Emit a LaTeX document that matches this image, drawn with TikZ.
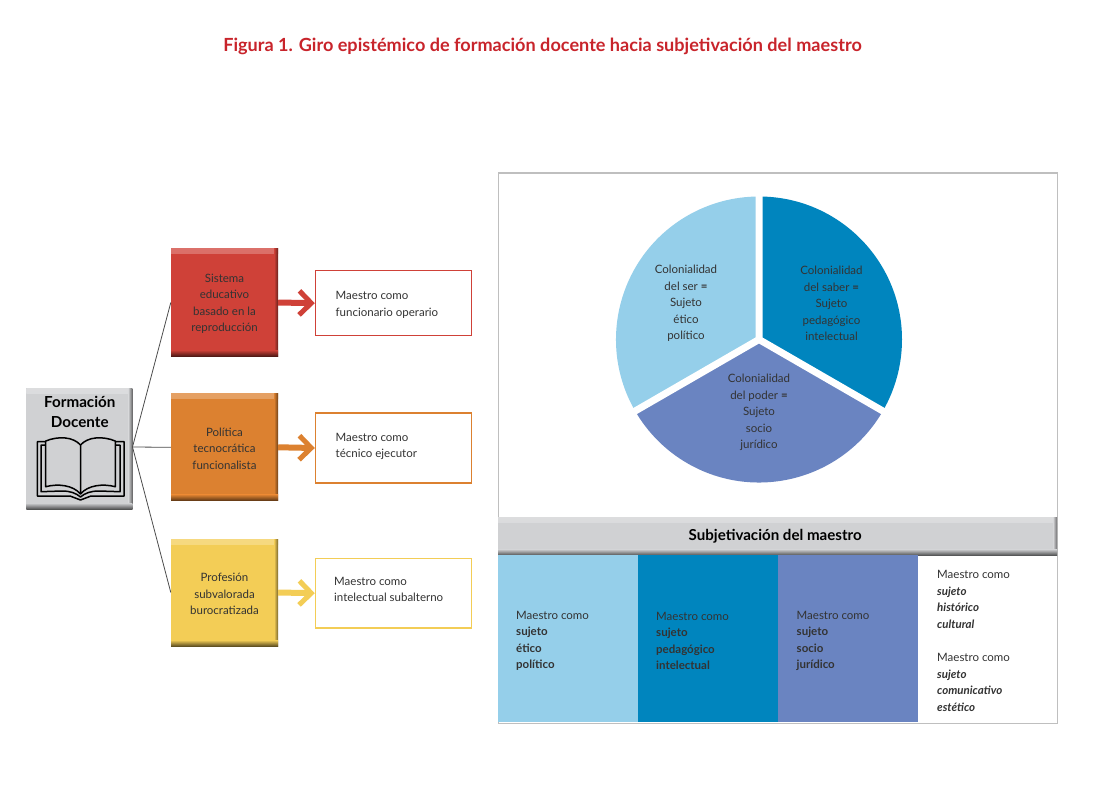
\documentclass[tikz,border=0pt]{standalone}
\usepackage{fontspec}
\setmainfont{Lato}
\usetikzlibrary{arrows.meta}
\definecolor{rojo}{HTML}{CF4138}
\definecolor{naranja}{HTML}{DC8130}
\definecolor{amarillo}{HTML}{F3CD56}
\definecolor{gris}{HTML}{D0D1D3}
\definecolor{celeste}{HTML}{95CFEA}
\definecolor{azul}{HTML}{0085BE}
\definecolor{indigo}{HTML}{6A84C1}
\definecolor{texto}{HTML}{333333}
\definecolor{titular}{HTML}{C8242B}
\tikzstyle{bevel} = [path picture={
    \shade[top color=#1!75!white, bottom color=#1] (path picture bounding box.north west) rectangle ([yshift=-5pt]path picture bounding box.north east);
    \shade[left color=#1, right color=#1!50!black] ([xshift=-4pt]path picture bounding box.north east) rectangle (path picture bounding box.south east);
    \shade[top color=#1, bottom color=#1!40!black] ([yshift=6pt]path picture bounding box.south west) rectangle (path picture bounding box.south east);
}]
\tikzstyle{cuerpo} = [text=texto, font=\fontsize{11.5}{16.5}\selectfont]
\tikzstyle{caja} = [rectangle, minimum width=107pt, minimum height=107pt, fill=#1, bevel=#1]
\tikzstyle{cajat} = [cuerpo, align=center, yshift=-1.5pt]
\tikzstyle{salida} = [rectangle, anchor=north west, line width=1.4pt, draw=#1, fill=white, minimum width=156pt, inner sep=0pt]
\tikzstyle{rotulo} = [cuerpo, anchor=west, align=left, inner sep=0pt]
\tikzstyle{rama} = [draw=black!70, line width=0.8pt]
\tikzstyle{flecha} = [line width=6pt, #1, -{Straight Barb[length=12pt,width=24pt,line width=5pt]}]
\tikzstyle{columna} = [rectangle, anchor=north west, minimum width=140pt, minimum height=167pt, inner sep=0pt]
\tikzstyle{trozo} = [cuerpo, align=center]
\begin{document}
\begin{tikzpicture}[x=1pt, y=-1pt]
    \useasboundingbox (0,0) rectangle (1100,802);

    % titulo
    \node (titulo) at (542.5,46.5) [text=titular, font=\fontsize{18.1}{21}\selectfont\bfseries] {Figura 1. Giro epistémico de formación docente hacia subjetivación del maestro};

    % lado izquierdo
    \node (formacion) at (79.3,448.5) [rectangle, minimum width=106pt, minimum height=121pt, fill=gris, bevel=gris, inner sep=0pt] {};
    \node (formaciont) at (79.8,412) [align=center, font=\fontsize{15.2}{20}\selectfont\bfseries] {Formación\\Docente};

    \node (sistema) at (224.5,302.5) [caja=rojo] {};
    \node (politica) at (224.5,447.3) [caja=naranja] {};
    \node (profesion) at (224.5,592.5) [caja=amarillo] {};
    \node (sistemat) at (sistema) [cajat] {Sistema\\educativo\\basado en la\\reproducción};
    \node (politicat) at (politica) [cajat] {Política\\tecnocrática\\funcionalista};
    \node (profesiont) at (profesion) [cajat] {Profesión\\subvalorada\\burocratizada};

    \node (operario) at (314.8,270) [salida=rojo, minimum height=65pt] {};
    \node (ejecutor) at (314.8,412.3) [salida=naranja, minimum height=70pt] {};
    \node (subalterno) at (314.8,557.75) [salida=amarillo, minimum height=69.5pt] {};
    \node (operariot) at (335.5,305) [rotulo] {Maestro como\\funcionario operario};
    \node (ejecutort) at (335.5,446.5) [rotulo] {Maestro como\\técnico ejecutor};
    \node (subalternot) at (334,589.5) [rotulo] {Maestro como\\intelectual subalterno};

    \draw [rama] ([yshift=1.5pt]formacion.east) -- (sistema.west);
    \draw [rama] ([yshift=1.5pt]formacion.east) -- (politica.west);
    \draw [rama] ([yshift=1.5pt]formacion.east) -- (profesion.west);

    \draw [flecha=rojo] (sistema.east) -- (operario.west);
    \draw [flecha=naranja] (politica.east) -- (ejecutor.west);
    \draw [flecha=amarillo] (profesion.east) -- (subalterno.west);

    % libro
    \draw [line width=1.5pt, line join=round]
        (45.7,441.7) -- (37.3,441.7) -- (37.3,496) -- (70,496) -- (80.5,500) -- (91,496) -- (124,496) -- (124,441.7) -- (115.3,441.7)
        (45.7,445) -- (41,445) -- (41,491.7) -- (62,491) .. controls (70,491) and (76,493) .. (80.5,497) .. controls (85,493) and (91,491) .. (99,491) -- (120,491.7) -- (120,445) -- (115.3,445)
        (45.7,441) .. controls (58,436) and (73,436.5) .. (80.5,445) .. controls (88,436.5) and (103,436) .. (115.3,441) -- (115.3,486.7) .. controls (103,483.5) and (88,485) .. (80.5,494) .. controls (73,485) and (58,483.5) .. (45.7,486.7) -- cycle
        (80.5,445) -- (80.5,494);

    % marco derecho
    \node (marco) at (497.5,172.5) [rectangle, anchor=north west, minimum width=559.5pt, minimum height=550pt, draw=black!25, line width=1.4pt, fill=white] {};

    % pastel
    \coordinate (centro) at (759,339.5);
    \fill [azul] (centro) -- ++(-90:143) arc[start angle=-90, end angle=30, radius=143] -- cycle;
    \fill [indigo] (centro) -- ++(30:143) arc[start angle=30, end angle=150, radius=143] -- cycle;
    \fill [celeste] (centro) -- ++(150:143) arc[start angle=150, end angle=270, radius=143] -- cycle;
    \draw [white, line width=7pt] (centro) -- ++(-90:146) (centro) -- ++(30:146) (centro) -- ++(150:146);

    \node (ser) at (686,303.5) [trozo] {Colonialidad\\del ser \textbf{=}\\Sujeto\\ético\\político};
    \node (saber) at (831.5,303.5) [trozo] {Colonialidad\\del saber \textbf{=}\\Sujeto\\pedagógico\\intelectual};
    \node (poder) at (759,412.5) [trozo] {Colonialidad\\del poder \textbf{=}\\Sujeto\\socio\\jurídico};

    % barra
    \node (barra) at (498,517) [rectangle, anchor=north west, minimum width=559pt, minimum height=38pt, fill=gris, bevel=gris, inner sep=0pt] {};
    \node (barrat) at (barra) [xshift=-2.5pt, font=\fontsize{15.1}{18}\selectfont\bfseries] {Subjetivación del maestro};

    % columnas
    \node (etico) at (498,555) [columna, fill=celeste] {};
    \node (pedagogico) at (637.5,555) [columna, fill=azul] {};
    \node (juridico) at (777.7,555) [columna, fill=indigo] {};

    \node (eticot) at (516,641) [rotulo] {Maestro como\\\textbf{sujeto}\\\textbf{ético}\\\textbf{político}};
    \node (pedagogicot) at (656,641) [rotulo] {Maestro como\\\textbf{sujeto}\\\textbf{pedagógico}\\\textbf{intelectual}};
    \node (juridicot) at (796.5,641) [rotulo] {Maestro como\\\textbf{sujeto}\\\textbf{socio}\\\textbf{jurídico}};
    \node (historico) at (937,599.5) [rotulo] {Maestro como\\\textbf{\textit{sujeto}}\\\textbf{\textit{histórico}}\\\textbf{\textit{cultural}}};
    \node (comunicativo) at (937,682.5) [rotulo] {Maestro como\\\textbf{\textit{sujeto}}\\\textbf{\textit{comunicativo}}\\\textbf{\textit{estético}}};

\end{tikzpicture}
\end{document}
